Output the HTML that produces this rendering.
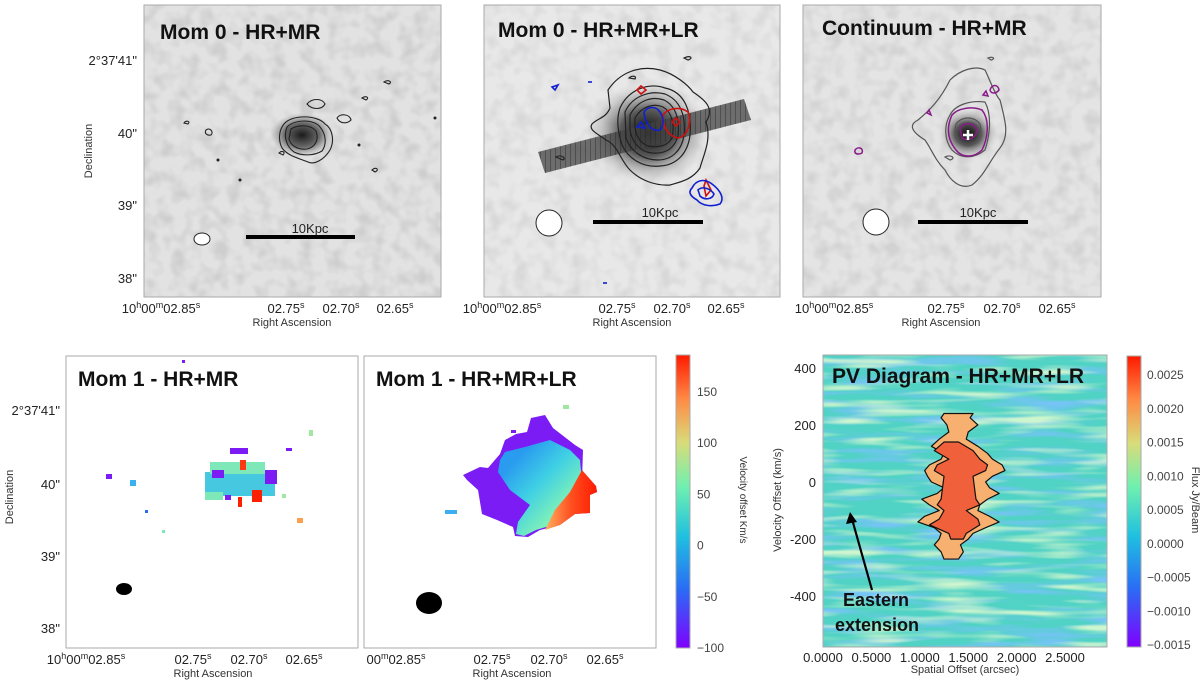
<!DOCTYPE html>
<html><head><meta charset="utf-8">
<style>
html,body{margin:0;padding:0;background:#fff;}
svg{display:block;font-family:"Liberation Sans",sans-serif;}
.t{font-weight:bold;font-size:21px;fill:#111;}
.tk{font-size:13px;fill:#222;}
.lb{font-size:11px;fill:#333;}
</style></head>
<body>
<svg id="fig" width="1200" height="681" viewBox="0 0 1200 681" xmlns="http://www.w3.org/2000/svg">
<defs>
<filter id="grayNoise" x="0" y="0" width="100%" height="100%">
 <feTurbulence type="fractalNoise" baseFrequency="0.07" numOctaves="2" seed="3"/>
 <feColorMatrix type="matrix" values="0 0 0 0 0.62  0 0 0 0 0.62  0 0 0 0 0.62  2.6 0 0 0 -1.05"/>
</filter>
<filter id="pvBlue" x="0" y="0" width="100%" height="100%">
 <feTurbulence type="fractalNoise" baseFrequency="0.012 0.12" numOctaves="2" seed="7"/>
 <feColorMatrix type="matrix" values="0 0 0 0 0.18  0 0 0 0 0.55  0 0 0 0 0.92  3.2 0 0 0 -1.45"/>
</filter>
<filter id="pvGreen" x="0" y="0" width="100%" height="100%">
 <feTurbulence type="fractalNoise" baseFrequency="0.012 0.12" numOctaves="2" seed="19"/>
 <feColorMatrix type="matrix" values="0 0 0 0 0.62  0 0 0 0 0.92  0 0 0 0 0.62  3.2 0 0 0 -1.5"/>
</filter>
<radialGradient id="blobA"><stop offset="0" stop-color="#1a1a1a"/><stop offset="0.55" stop-color="#6a6a6a"/><stop offset="1" stop-color="#aaa" stop-opacity="0"/></radialGradient>
<radialGradient id="blobB"><stop offset="0" stop-color="#0a0a0a"/><stop offset="0.45" stop-color="#5a5a5a"/><stop offset="1" stop-color="#ccc" stop-opacity="0"/></radialGradient>
<linearGradient id="rainbow" x1="0" y1="1" x2="0" y2="0">
 <stop offset="0" stop-color="#7f00ff"/><stop offset="0.2" stop-color="#2a6cf5"/><stop offset="0.38" stop-color="#1fc0e0"/><stop offset="0.55" stop-color="#6ff0b0"/><stop offset="0.7" stop-color="#d8dc7a"/><stop offset="0.85" stop-color="#ff8a45"/><stop offset="1" stop-color="#ff1a00"/>
</linearGradient>
<linearGradient id="cyanGrad" x1="0" y1="0" x2="1" y2="1">
 <stop offset="0.2" stop-color="#2a9cf0"/><stop offset="0.45" stop-color="#3fd0e4"/><stop offset="0.7" stop-color="#7ff0b8"/><stop offset="0.9" stop-color="#bfe890"/>
</linearGradient>
<linearGradient id="redGrad" x1="0" y1="0" x2="1" y2="0">
 <stop offset="0" stop-color="#ffb060"/><stop offset="0.5" stop-color="#ff5020"/><stop offset="1" stop-color="#ff1a00"/>
</linearGradient>
<pattern id="slitPat" width="5" height="30" patternUnits="userSpaceOnUse"><rect width="5" height="30" fill="#444" fill-opacity="0.75"/><line x1="0" y1="0" x2="0" y2="30" stroke="#222" stroke-width="0.8"/></pattern>
</defs>

<!-- ===== Top-left: Mom 0 HR+MR ===== -->
<g>
 <rect x="144" y="5" width="297" height="292" fill="#e2e2e2"/>
 <rect x="144" y="5" width="297" height="292" filter="url(#grayNoise)"/>
 <ellipse cx="302" cy="135" rx="32" ry="22" fill="url(#blobA)"/>
 <g fill="none" stroke="#222" stroke-width="1.1">
  <path d="M284,124 C292,114 318,115 325,124 C332,128 335,140 330,150 C324,160 314,165 308,162 C298,158 288,156 282,148 C278,140 279,130 284,124Z"/>
  <path d="M287,127 C295,119 314,119 320,127 C326,134 327,144 322,151 C314,156 302,156 294,152 C287,147 283,137 287,127Z"/>
  <path d="M291,129 C299,124 311,125 316,131 C319,139 316,147 307,149 C298,150 291,146 289,139Z"/>
  <path d="M307,104 C312,98 322,98 325,104 C322,110 312,110 307,104Z"/>
  <path d="M337,118 C340,113 350,114 351,120 C347,124 340,124 337,118Z"/>
  <path d="M184,123 C186,120 191,121 188,124Z"/><path d="M206,130 C210,127 214,132 211,135 C207,136 204,133 206,130Z"/>
  <path d="M384,82 C388,79 393,82 389,84Z"/><path d="M362,98 C366,95 370,98 366,100Z"/><path d="M372,170 C376,166 380,170 375,172Z"/>
  <path d="M279,153 C282,150 286,152 283,155Z"/>
 </g>
 <circle cx="218" cy="160" r="1.5" fill="#222"/><circle cx="240" cy="180" r="1.5" fill="#222"/><circle cx="435" cy="118" r="1.5" fill="#222"/><circle cx="359" cy="145" r="1.5" fill="#222"/>
 <ellipse cx="202" cy="239" rx="8" ry="6" fill="#fff" stroke="#222"/>
 <rect x="246" y="235" width="109" height="4" fill="#000"/>
 <text x="310" y="233" text-anchor="middle" class="tk">10Kpc</text>
 <rect x="144" y="5" width="297" height="292" fill="none" stroke="#aaa"/>
 <text x="160" y="39" class="t">Mom 0 - HR+MR</text>
 <g class="tk" text-anchor="end">
  <text x="137" y="65">2°37'41"</text><text x="137" y="138">40"</text><text x="137" y="210">39"</text><text x="137" y="283">38"</text>
 </g>
 <text transform="translate(92,151) rotate(-90)" text-anchor="middle" class="lb">Declination</text>
 <g class="tk" text-anchor="middle">
  <text x="161" y="313">10<tspan font-size="9" dy="-5">h</tspan><tspan dy="5">00</tspan><tspan font-size="9" dy="-5">m</tspan><tspan dy="5">02.85</tspan><tspan font-size="9" dy="-5">s</tspan></text>
  <text x="286" y="313">02.75<tspan font-size="9" dy="-5">s</tspan></text><text x="341" y="313">02.70<tspan font-size="9" dy="-5">s</tspan></text><text x="395" y="313">02.65<tspan font-size="9" dy="-5">s</tspan></text>
 </g>
 <text x="292" y="326" text-anchor="middle" class="lb">Right Ascension</text>
</g>

<!-- ===== Top-middle: Mom 0 HR+MR+LR ===== -->
<g>
 <rect x="484" y="5" width="296" height="292" fill="#e8e8e8"/>
 <rect x="484" y="5" width="296" height="292" filter="url(#grayNoise)" opacity="0.6"/>
 <ellipse cx="648" cy="133" rx="62" ry="52" fill="url(#blobB)"/>
 <polygon points="538,152 744,99 751,120 545,173" fill="url(#slitPat)"/>
 <g fill="none" stroke="#222" stroke-width="1.2">
  <path d="M608,90 C620,72 640,65 660,70 C675,74 688,85 693,92 C705,100 715,108 706,122 C712,140 703,156 700,168 C692,180 680,182 670,185 C655,186 640,180 630,170 C620,160 618,145 606,140 C598,134 588,130 592,124 C598,118 606,118 610,108 Z"/>
  <path d="M620,108 C628,90 648,82 665,88 C685,92 692,112 690,135 C688,152 678,165 660,166 C642,168 628,158 622,145 C618,132 616,120 620,108Z"/>
  <path d="M625,112 C632,96 650,90 665,94 C680,100 686,115 684,135 C682,150 672,160 658,160 C642,160 630,150 626,138Z"/>
  <path d="M630,115 C638,100 652,96 664,100 C676,106 680,120 678,136 C674,150 664,154 652,153 C640,152 632,142 630,130Z"/>
  <path d="M635,118 C642,106 654,103 663,107 C672,112 675,125 672,138 C668,146 658,148 648,146 C638,142 634,132 635,118Z"/>
  <path d="M629,78 C632,75 637,76 635,79Z"/><path d="M556,157 C560,154 567,158 563,160Z"/><path d="M684,58 C690,55 694,58 688,60Z"/>
 </g>
 <g fill="none" stroke="#d01010" stroke-width="1.6">
  <path d="M663,115 C668,108 680,106 688,112 C692,122 688,136 678,138 C668,136 662,126 663,115Z"/>
  <path d="M672,122 L676,118 L680,122 L676,126Z"/><path d="M637,90 L641,86 L646,90 L641,94Z"/>
  <path d="M704,186 L706,180 L711,190 L706,196Z"/>
 </g>
 <g fill="none" stroke="#1020d0" stroke-width="1.6">
  <path d="M644,112 C648,106 656,106 660,112 C664,118 664,126 660,130 C652,132 645,124 644,112Z"/>
  <path d="M637,127 L641,122 L645,128Z"/><path d="M552,87 L558,85 L555,90Z"/>
  <path d="M692,188 C696,180 704,178 712,184 C720,190 725,198 720,204 C712,207 702,206 697,200 C690,196 688,192 692,188Z"/>
  <path d="M698,190 C702,186 710,188 714,194 C712,200 704,200 700,196Z"/>
  <path d="M588,82 L592,82"/><path d="M603,283 L607,283"/>
 </g>
 <circle cx="549" cy="223" r="13" fill="#fff" stroke="#222"/>
 <rect x="593" y="220" width="110" height="4" fill="#000"/>
 <text x="660" y="217" text-anchor="middle" class="tk">10Kpc</text>
 <rect x="484" y="5" width="296" height="292" fill="none" stroke="#aaa"/>
 <text x="498" y="37" class="t">Mom 0 - HR+MR+LR</text>
 <g class="tk" text-anchor="middle">
  <text x="502" y="313">10<tspan font-size="9" dy="-5">h</tspan><tspan dy="5">00</tspan><tspan font-size="9" dy="-5">m</tspan><tspan dy="5">02.85</tspan><tspan font-size="9" dy="-5">s</tspan></text>
  <text x="617" y="313">02.75<tspan font-size="9" dy="-5">s</tspan></text><text x="672" y="313">02.70<tspan font-size="9" dy="-5">s</tspan></text><text x="726" y="313">02.65<tspan font-size="9" dy="-5">s</tspan></text>
 </g>
 <text x="632" y="326" text-anchor="middle" class="lb">Right Ascension</text>
</g>

<!-- ===== Top-right: Continuum ===== -->
<g>
 <rect x="803" y="5" width="298" height="292" fill="#e4e4e4"/>
 <rect x="803" y="5" width="298" height="292" filter="url(#grayNoise)" opacity="0.8"/>
 <ellipse cx="968" cy="134" rx="30" ry="26" fill="url(#blobB)"/>
 <g fill="none" stroke="#555" stroke-width="1.2">
  <path d="M950,80 C960,70 975,65 985,70 C990,80 995,95 1000,100 C1005,120 1010,135 1000,148 C990,160 985,175 972,185 C960,190 950,180 945,170 C935,160 932,150 925,140 C912,132 908,125 918,120 C930,110 940,100 950,80Z"/>
  <path d="M950,115 C955,105 970,100 985,102 C992,115 990,135 985,150 C975,158 962,160 952,150 C944,140 944,125 950,115Z"/>
  <path d="M956,124 C962,116 974,116 980,124 C983,134 978,144 968,146 C958,144 953,134 956,124Z"/>
  <path d="M945,157 C950,154 957,158 950,160Z"/><path d="M988,58 C993,56 996,59 991,60Z"/>
 </g>
 <g fill="none" stroke="#8a1a8a" stroke-width="1.5">
  <path d="M952,115 C958,108 972,106 982,110 C990,120 988,138 982,150 C974,158 962,158 956,150 C948,140 946,128 952,115Z"/>
  <path d="M960,128 C964,122 974,122 977,130 C976,138 968,142 962,138Z"/>
  <path d="M990,90 C992,84 998,84 999,90 C996,94 991,94 990,90Z"/><path d="M855,150 C858,146 864,148 862,153 C858,155 854,154 855,150Z"/>
  <path d="M983,95 L986,91 L988,96Z"/><path d="M927,113 L929,110 L931,115Z"/>
 </g>
 <path d="M968,130 L968,140 M963,135 L973,135" stroke="#fff" stroke-width="2.5"/>
 <circle cx="876" cy="222" r="13" fill="#fff" stroke="#222"/>
 <rect x="918" y="220" width="110" height="4" fill="#000"/>
 <text x="978" y="217" text-anchor="middle" class="tk">10Kpc</text>
 <rect x="803" y="5" width="298" height="292" fill="none" stroke="#aaa"/>
 <text x="822" y="35" class="t">Continuum - HR+MR</text>
 <g class="tk" text-anchor="middle">
  <text x="834" y="313">10<tspan font-size="9" dy="-5">h</tspan><tspan dy="5">00</tspan><tspan font-size="9" dy="-5">m</tspan><tspan dy="5">02.85</tspan><tspan font-size="9" dy="-5">s</tspan></text>
  <text x="946" y="313">02.75<tspan font-size="9" dy="-5">s</tspan></text><text x="1002" y="313">02.70<tspan font-size="9" dy="-5">s</tspan></text><text x="1057" y="313">02.65<tspan font-size="9" dy="-5">s</tspan></text>
 </g>
 <text x="941" y="326" text-anchor="middle" class="lb">Right Ascension</text>
</g>

<!-- ===== Bottom-left: Mom 1 HR+MR ===== -->
<g>
 <rect x="66" y="356" width="292" height="292" fill="#fff" stroke="#aaa"/>
 <g>
  <rect x="205" y="472" width="70" height="24" fill="#45c8e0"/>
  <rect x="210" y="462" width="55" height="12" fill="#7fe8b8"/>
  <rect x="265" y="470" width="12" height="14" fill="#7b1cf5"/>
  <rect x="212" y="470" width="12" height="8" fill="#7b1cf5"/>
  <rect x="252" y="490" width="10" height="12" fill="#ff2000"/>
  <rect x="230" y="448" width="18" height="6" fill="#7b1cf5"/>
  <rect x="240" y="460" width="6" height="10" fill="#ff3a10"/>
  <rect x="238" y="497" width="4" height="10" fill="#ff2000"/>
  <rect x="205" y="492" width="18" height="8" fill="#7fe8b8"/>
  <rect x="225" y="495" width="6" height="5" fill="#7b1cf5"/>
  <rect x="106" y="474" width="6" height="5" fill="#7b1cf5"/><rect x="130" y="480" width="6" height="6" fill="#3ab0f0"/>
  <rect x="309" y="430" width="4" height="6" fill="#9fe8a0"/><rect x="286" y="448" width="6" height="3" fill="#7b1cf5"/>
  <rect x="297" y="518" width="6" height="5" fill="#ffa050"/><rect x="162" y="530" width="3" height="3" fill="#7fe8b8"/>
  <rect x="145" y="510" width="3" height="3" fill="#2a6cf5"/><rect x="282" y="494" width="4" height="4" fill="#9fe8a0"/>
  <rect x="182" y="360" width="3" height="3" fill="#7b1cf5"/>
 </g>
 <ellipse cx="124" cy="589" rx="8" ry="6" fill="#000"/>
 <text x="78" y="386" class="t">Mom 1 - HR+MR</text>
 <g class="tk" text-anchor="end">
  <text x="60" y="415">2°37'41"</text><text x="60" y="489">40"</text><text x="60" y="561">39"</text><text x="60" y="633">38"</text>
 </g>
 <text transform="translate(13,497) rotate(-90)" text-anchor="middle" class="lb">Declination</text>
 <g class="tk" text-anchor="middle">
  <text x="86" y="664">10<tspan font-size="9" dy="-5">h</tspan><tspan dy="5">00</tspan><tspan font-size="9" dy="-5">m</tspan><tspan dy="5">02.85</tspan><tspan font-size="9" dy="-5">s</tspan></text>
  <text x="193" y="664">02.75<tspan font-size="9" dy="-5">s</tspan></text><text x="249" y="664">02.70<tspan font-size="9" dy="-5">s</tspan></text><text x="304" y="664">02.65<tspan font-size="9" dy="-5">s</tspan></text>
 </g>
 <text x="213" y="677" text-anchor="middle" class="lb">Right Ascension</text>
</g>

<!-- ===== Bottom-middle: Mom 1 HR+MR+LR ===== -->
<g>
 <rect x="364" y="356" width="292" height="292" fill="#fff" stroke="#aaa"/>
 <g>
  <polygon points="531,418 545,415 553,428 575,445 583,450 582,480 596,486 597,492 590,495 590,513 575,514 560,525 540,530 528,537 515,536 513,527 497,520 482,514 478,490 467,480 463,475 480,467 488,468 500,454 505,440 516,434 527,432" fill="#7b1cf5"/>
  <polygon points="505,452 525,447 550,440 570,450 580,460 582,482 590,492 588,510 572,514 556,524 536,530 524,536 516,534 518,522 530,505 510,490 498,472 500,460" fill="url(#cyanGrad)"/>
  <polygon points="582,470 596,486 597,492 590,495 590,513 575,514 560,525 545,530 555,510 570,492" fill="url(#redGrad)"/>
 </g>
 <rect x="445" y="510" width="12" height="4" fill="#3ab0f0"/><rect x="563" y="405" width="6" height="4" fill="#9fe8a0"/><rect x="511" y="430" width="5" height="3" fill="#7b1cf5"/>
 <ellipse cx="429" cy="603" rx="13" ry="11" fill="#000"/>
 <text x="376" y="386" class="t">Mom 1 - HR+MR+LR</text>
 <g class="tk" text-anchor="middle">
  <text x="396" y="664">00<tspan font-size="9" dy="-5">m</tspan><tspan dy="5">02.85</tspan><tspan font-size="9" dy="-5">s</tspan></text>
  <text x="492" y="664">02.75<tspan font-size="9" dy="-5">s</tspan></text><text x="549" y="664">02.70<tspan font-size="9" dy="-5">s</tspan></text><text x="605" y="664">02.65<tspan font-size="9" dy="-5">s</tspan></text>
 </g>
 <text x="512" y="677" text-anchor="middle" class="lb">Right Ascension</text>
</g>

<!-- velocity colorbar -->
<g id="velCbar">
 <rect x="676" y="355" width="14" height="293" fill="url(#rainbow)" stroke="#aaa"/>
 <text transform="translate(740,500) rotate(90)" text-anchor="middle" font-size="10" fill="#333">Velocity offset Km/s</text>
</g>

<!-- ===== PV diagram ===== -->
<g id="pv">
 <rect x="823" y="355" width="284" height="292" fill="#50d2c4"/>
 <rect x="823" y="355" width="284" height="292" filter="url(#pvBlue)"/>
 <rect x="823" y="355" width="284" height="292" filter="url(#pvGreen)"/>
 <g id="pvMarks"></g>
 <rect x="823" y="355" width="284" height="292" fill="none" stroke="#aaa"/>
 <text x="832" y="383" class="t">PV Diagram - HR+MR+LR</text>
 <line x1="872" y1="590" x2="852" y2="519" stroke="#000" stroke-width="2.2"/>
 <polygon points="850,512 846,524 857,522" fill="#000"/>
 <text x="843" y="606" font-weight="bold" font-size="18" fill="#111">Eastern</text>
 <text x="835" y="631" font-weight="bold" font-size="18" fill="#111">extension</text>
 <text x="965" y="673" text-anchor="middle" class="lb">Spatial Offset (arcsec)</text>
 <text transform="translate(781,500) rotate(-90)" text-anchor="middle" class="lb">Velocity Offset (km/s)</text>
</g>
<g id="fluxCbar">
 <rect x="1127" y="356" width="14" height="291" fill="url(#rainbow)" stroke="#aaa"/>
 <text transform="translate(1192,500) rotate(90)" text-anchor="middle" font-size="11" fill="#333">Flux Jy/Beam</text>
</g>
</svg>
<script>
const NS="http://www.w3.org/2000/svg";
// PV data
const pvXTicks=[0,0.5,1.0,1.5,2.0,2.5];
const pvYTicks=[400,200,0,-200,-400];
const pvVel=[240,225,200,175,150,125,100,80,60,40,20,0,-20,-40,-60,-80,-100,-120,-140,-160,-180,-200,-220,-245,-270];
const pvLeft=[1.25,1.22,1.28,1.30,1.20,1.12,1.25,1.22,1.10,1.05,1.08,1.12,1.25,1.18,1.02,1.10,1.20,1.05,0.98,1.15,1.22,1.20,1.15,1.22,1.25];
const pvRight=[1.55,1.52,1.60,1.50,1.48,1.60,1.70,1.75,1.85,1.88,1.75,1.68,1.72,1.82,1.70,1.62,1.60,1.72,1.82,1.68,1.55,1.50,1.42,1.45,1.40];
const pvInnerVel=[140,110,80,60,40,20,-60,-80,-100,-130,-150,-180,-200];
const pvInnerLeft=[1.25,1.15,1.30,1.18,1.15,1.25,1.22,1.18,1.25,1.20,1.10,1.30,1.32];
const pvInnerRight=[1.40,1.55,1.62,1.70,1.68,1.55,1.58,1.62,1.48,1.60,1.62,1.48,1.45];
// colorbar data
const velTicks=[150,100,50,0,-50,-100];
const fluxTicks=[0.0025,0.0020,0.0015,0.0010,0.0005,0.0000,-0.0005,-0.0010,-0.0015];
const fluxTickLabels=["0.0025","0.0020","0.0015","0.0010","0.0005","0.0000","\u22120.0005","\u22120.0010","\u22120.0015"];

const xS=v=>823+v*96.8;
const yS=v=>482-v*0.2855;
const velY=v=>648-(v+100)*1.0245;
const fluxY=v=>645-(v+0.0015)*67500;

function mk(tag,attrs,parent){const e=document.createElementNS(NS,tag);for(const k in attrs)e.setAttribute(k,attrs[k]);parent.appendChild(e);return e;}
const marks=document.getElementById('pvMarks');
function blob(vel,left,right,fill,name){
  const pts=[];
  for(let i=0;i<vel.length;i++)pts.push(xS(left[i])+","+yS(vel[i]));
  for(let i=vel.length-1;i>=0;i--)pts.push(xS(right[i])+","+yS(vel[i]));
  const p=mk('polygon',{points:pts.join(' '),fill:fill,stroke:'#111','stroke-width':1.2,'stroke-linejoin':'round'},marks);
  
  
}
blob(pvVel,pvLeft,pvRight,'#f7b070','pv-outer-contour');
blob(pvInnerVel,pvInnerLeft,pvInnerRight,'#f0603a','pv-inner-contour');

const pv=document.getElementById('pv');
pvXTicks.forEach(t=>{
  const e=mk('text',{x:xS(t),y:662,'text-anchor':'middle','class':'tk'},pv);
  e.textContent=t.toFixed(4);
  
  
});
pvYTicks.forEach(t=>{
  const e=mk('text',{x:816,y:yS(t)+5,'text-anchor':'end','class':'tk'},pv);
  e.textContent=String(t);
  
  
});
const vc=document.getElementById('velCbar');
velTicks.forEach(t=>{
  const e=mk('text',{x:697,y:velY(t)+4,'font-size':12,fill:'#444'},vc);
  e.textContent=t<0?"\u2212"+Math.abs(t):String(t);
  
  
});
const fc=document.getElementById('fluxCbar');
fluxTicks.forEach((t,i)=>{
  const e=mk('text',{x:1147,y:fluxY(t)+4,'font-size':12,fill:'#444'},fc);
  e.textContent=fluxTickLabels[i];
  
  
});
</script>
</body></html>
